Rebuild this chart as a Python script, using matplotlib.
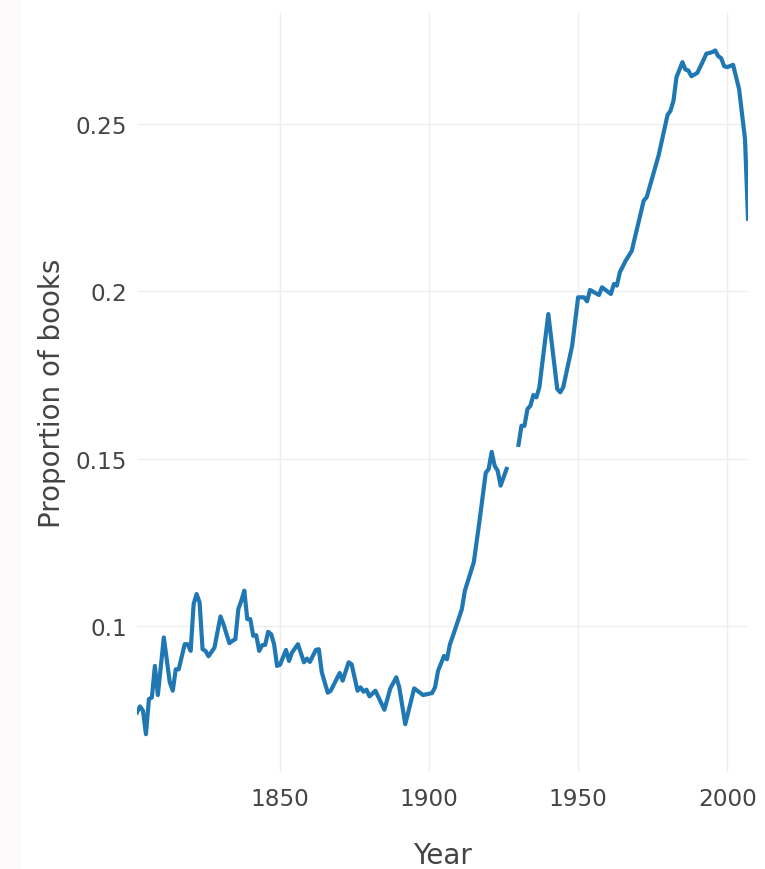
import numpy as np
import matplotlib.pyplot as plt
from matplotlib.patches import Rectangle

# values (NaN = break in the line)
years = [1802, 1803, 1804, 1805, 1806, 1807, 1808, 1809, 1811, 1813, 1814, 1815,
         1816, 1818, 1819, 1820, 1821, 1822, 1823, 1824, 1825, 1826, 1828, 1830,
         1831, 1833, 1834, 1835, 1836, 1837, 1838, 1839, 1840, 1841, 1842, 1843,
         1844, 1845, 1846, 1847, 1848, 1849, 1850, 1852, 1853, 1854, 1856, 1858,
         1859, 1860, 1862, 1863, 1864, 1866, 1867, 1870, 1871, 1873, 1874, 1876,
         1877, 1878, 1879, 1880, 1882, 1885, 1887, 1889, 1890, 1892, 1895, 1898,
         1901, 1902, 1903, 1905, 1906, 1907, 1908, 1911, 1912, 1915, 1917, 1919,
         1920, 1921, 1922, 1923, 1924, 1926, 1927, 1930, 1931, 1932, 1933, 1934,
         1935, 1936, 1937, 1940, 1943, 1944, 1945, 1948, 1950, 1952, 1953, 1954,
         1957, 1958, 1961, 1962, 1963, 1964, 1966, 1968, 1970, 1972, 1973, 1977,
         1980, 1981, 1982, 1983, 1985, 1986, 1987, 1988, 1990, 1992, 1993, 1995,
         1996, 1997, 1998, 1999, 2000, 2002, 2004, 2006, 2007]
proportion = [0.0741, 0.0759, 0.0746, 0.0676, 0.0781, 0.0786, 0.0880, 0.0793, 0.0965, 0.0831, 0.0806, 0.0870,
              0.0870, 0.0945, 0.0945, 0.0925, 0.1065, 0.1095, 0.1070, 0.0930, 0.0925, 0.0909, 0.0935, 0.1028,
              0.1005, 0.0948, 0.0955, 0.0960, 0.1050, 0.1075, 0.1105, 0.1020, 0.1020, 0.0970, 0.0972, 0.0925,
              0.0942, 0.0943, 0.0982, 0.0975, 0.0945, 0.0880, 0.0884, 0.0928, 0.0895, 0.0920, 0.0945, 0.0891,
              0.0902, 0.0892, 0.0928, 0.0930, 0.0861, 0.0800, 0.0806, 0.0859, 0.0836, 0.0891, 0.0885, 0.0806,
              0.0816, 0.0803, 0.0809, 0.0789, 0.0806, 0.0749, 0.0813, 0.0846, 0.0816, 0.0706, 0.0813, 0.0793,
              0.0799, 0.0816, 0.0865, 0.0910, 0.0900, 0.0945, 0.0970, 0.1050, 0.1105, 0.1190, 0.1319, 0.1457,
              0.1469, 0.1520, 0.1478, 0.1464, 0.1419, 0.1469, np.nan, 0.1541, 0.1598, 0.1598, 0.1648, 0.1658,
              0.1690, 0.1683, 0.1713, 0.1932, 0.1708, 0.1698, 0.1713, 0.1837, 0.1982, 0.1982, 0.1970, 0.2004,
              0.1989, 0.2012, 0.1992, 0.2022, 0.2017, 0.2057, 0.2092, 0.2121, 0.2196, 0.2271, 0.2281, 0.2406,
              0.2527, 0.2540, 0.2570, 0.2640, 0.2685, 0.2663, 0.2660, 0.2643, 0.2653, 0.2690, 0.2710, 0.2715,
              0.2720, 0.2703, 0.2697, 0.2673, 0.2670, 0.2677, 0.2605, 0.2455, 0.2217]

y_ticks = [0.1, 0.15, 0.2, 0.25]
y_tick_labels = ["0.1", "0.15", "0.2", "0.25"]
x_ticks = [1850, 1900, 1950, 2000]

plt.rcParams['font.family'] = ['DejaVu Sans']

fig = plt.figure(figsize=(7.65, 8.7), dpi=100)
# very faint grey strip on the left edge of the screenshot
fig.patches.append(Rectangle((0, 0), 20 / 765, 1, transform=fig.transFigure,
                             color='#fcfafa', zorder=-5))
ax = fig.add_axes([137 / 765, 1 - 773 / 870, (748 - 137) / 765, (773 - 14) / 870])

ax.plot(years, proportion, color='#1f77b4', linewidth=3.0, solid_joinstyle='round')

ax.set_xlim(1802, 2007)
ax.set_ylim(0.0563, 0.2832)
ax.set_xticks(x_ticks)
ax.set_yticks(y_ticks)
ax.set_yticklabels(y_tick_labels)
ax.grid(True, color='#eeeeee', linewidth=1)
ax.set_axisbelow(True)
for s in ax.spines.values():
    s.set_visible(False)
ax.tick_params(length=0, labelsize=16.7, colors='#444444')
ax.tick_params(axis='x', pad=11)
ax.tick_params(axis='y', pad=7)

ax.set_xlabel("Year", fontsize=20, color='#444444', labelpad=22)
ax.set_ylabel("Proportion of books", fontsize=20, color='#444444', labelpad=7)

fig.savefig("out.png", dpi=100)
